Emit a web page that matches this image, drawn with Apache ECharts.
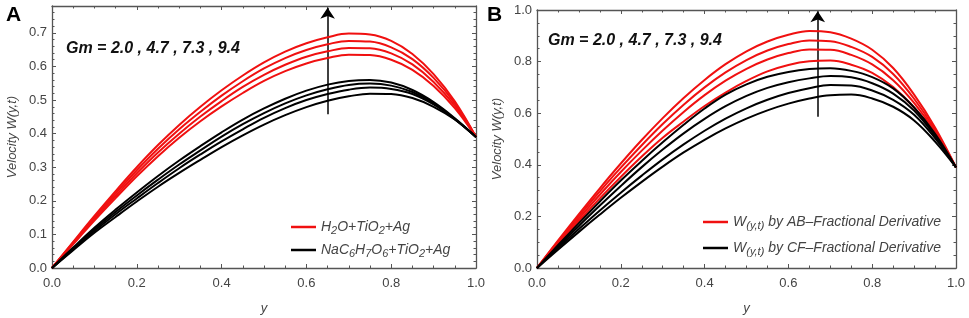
<!DOCTYPE html>
<html>
<head>
<meta charset="utf-8">
<script src="https://cdn.jsdelivr.net/npm/echarts@6/dist/echarts.min.js"></script>
<style>
html,body{margin:0;padding:0;background:#fff;}
#chart{width:969px;height:318px;}
</style>
</head>
<body>
<div id="chart"></div>
<script>
// y positions (same for every curve)
var xs = [0, 0.05, 0.1, 0.15, 0.2, 0.25, 0.3, 0.35, 0.4, 0.45, 0.5,
          0.55, 0.6, 0.65, 0.7, 0.75, 0.8, 0.85, 0.9, 0.95, 1.0];

// panel A, H2O+TiO2+Ag (red), Gm = 2.0, 4.7, 7.3, 9.4
var aRed20 = [0, .071, .141, .208, .273, .333, .388, .437, .481, .521, .557, .586, .609, .625, .635, .634, .620, .590, .542, .476, .39];
var aRed47 = [0, .073, .146, .215, .282, .344, .400, .451, .497, .539, .575, .605, .629, .645, .655, .654, .639, .606, .554, .483, .39];
var aRed73 = [0, .076, .150, .222, .291, .355, .413, .465, .513, .556, .594, .625, .649, .666, .676, .674, .657, .622, .566, .490, .39];
var aRed94 = [0, .078, .155, .229, .300, .366, .426, .480, .529, .573, .612, .644, .669, .687, .698, .695, .676, .637, .577, .496, .39];
// panel A, NaC6H7O6+TiO2+Ag (black)
var aBlk20 = [0, .053, .105, .152, .198, .242, .283, .322, .360, .395, .427, .455, .479, .498, .511, .519, .518, .506, .480, .442, .39];
var aBlk47 = [0, .056, .110, .160, .207, .253, .297, .338, .377, .413, .447, .476, .500, .518, .531, .537, .533, .518, .487, .443, .39];
var aBlk73 = [0, .058, .115, .167, .216, .263, .308, .350, .391, .428, .461, .490, .514, .532, .545, .549, .543, .524, .491, .444, .39];
var aBlk94 = [0, .061, .120, .174, .225, .274, .320, .363, .404, .442, .475, .504, .528, .546, .557, .560, .552, .530, .494, .446, .39];

// panel B, AB fractional derivative (red)
var bRed20 = [0, .093, .183, .270, .353, .432, .505, .568, .628, .680, .725, .762, .787, .801, .804, .788, .756, .701, .622, .518, .39];
var bRed47 = [0, .098, .192, .284, .372, .455, .533, .605, .670, .726, .772, .808, .833, .847, .846, .826, .789, .728, .640, .528, .39];
var bRed73 = [0, .102, .201, .297, .389, .476, .558, .633, .700, .758, .806, .843, .868, .882, .879, .857, .818, .752, .656, .536, .39];
var bRed94 = [0, .106, .209, .309, .405, .496, .581, .659, .729, .790, .840, .878, .904, .919, .914, .889, .846, .775, .672, .545, .39];
// panel B, CF fractional derivative (black)
var bBlk20 = [0, .071, .140, .207, .272, .334, .393, .448, .497, .541, .579, .611, .637, .657, .670, .672, .657, .625, .572, .490, .39];
var bBlk47 = [0, .077, .151, .223, .292, .358, .421, .479, .532, .579, .619, .652, .678, .697, .709, .707, .688, .652, .594, .503, .39];
var bBlk73 = [0, .083, .163, .242, .318, .391, .459, .522, .578, .627, .667, .698, .720, .735, .744, .739, .716, .676, .610, .511, .39];
var bBlk94 = [0, .088, .174, .258, .339, .415, .487, .555, .618, .672, .712, .741, .760, .771, .774, .764, .740, .696, .622, .520, .39];

// arrows [y, from, to]
var arrowA = [0.65, 0.458, 0.775];
var arrowB = [0.67, 0.586, 0.995];

var gmText = 'Gm = 2.0 , 4.7 , 7.3 , 9.4';
var nameA1 = 'H2O+TiO2+Ag', nameA2 = 'NaC6H7O6+TiO2+Ag';
var nameB1 = 'W(y,t) by AB-Fractional Derivative', nameB2 = 'W(y,t) by CF-Fractional Derivative';

var FONT = 'Liberation Sans, Arial, sans-serif';
var GREY = '#444';

function pts(arr){
    var out = [];
    for (var i = 0; i < xs.length; i++) out.push([xs[i], arr[i]]);
    return out;
}

function curve(name, arr, color, g){
    return {
        name: name, type: 'line', data: pts(arr), smooth: 0.4,
        showSymbol: false, xAxisIndex: g * 2, yAxisIndex: g * 2,
        lineStyle: {color: color, width: 2}, itemStyle: {color: color},
        silent: true
    };
}

function arrow(a, g){
    return {
        type: 'lines', coordinateSystem: 'cartesian2d',
        xAxisIndex: g * 2, yAxisIndex: g * 2,
        symbol: ['none', 'arrow'], symbolSize: [7, 11],
        lineStyle: {color: '#000', width: 1.5, opacity: 1},
        data: [{coords: [[a[0], a[1]], [a[0], a[2]]]}],
        silent: true
    };
}

function xAx(g, top){
    return {
        type: 'value', gridIndex: g, min: 0, max: 1, interval: 0.2,
        position: top ? 'top' : 'bottom',
        name: top ? '' : 'y', nameLocation: 'middle', nameGap: 34,
        nameTextStyle: {fontFamily: FONT, fontSize: 13, fontStyle: 'italic', color: GREY},
        axisLine: {onZero: false, lineStyle: {color: '#555', width: 1.3}},
        axisTick: {inside: true, length: 4, lineStyle: {color: '#555'}},
        minorTick: {show: true, splitNumber: 4, length: 2.5, lineStyle: {color: '#555'}},
        axisLabel: {show: !top, margin: 9, fontFamily: FONT, fontSize: 13, color: GREY,
            formatter: function(v){ return v.toFixed(1); }},
        splitLine: {show: false}
    };
}

function yAx(g, right, max, interval, minorSplit){
    return {
        type: 'value', gridIndex: g, min: 0, max: max, interval: interval,
        position: right ? 'right' : 'left',
        name: right ? '' : 'Velocity W(y,t)', nameLocation: 'middle', nameGap: 33,
        nameTextStyle: {fontFamily: FONT, fontSize: 13, fontStyle: 'italic', color: GREY},
        axisLine: {onZero: false, lineStyle: {color: '#555', width: 1.3}},
        axisTick: {inside: true, length: 4, lineStyle: {color: '#555'}},
        minorTick: {show: true, splitNumber: minorSplit, length: 2.5, lineStyle: {color: '#555'}},
        axisLabel: {show: !right, margin: 5, fontFamily: FONT, fontSize: 13, color: GREY,
            showMaxLabel: max === 1,
            formatter: function(v){ return v.toFixed(1); }},
        splitLine: {show: false}
    };
}

var rich = {
    it: {fontFamily: FONT, fontSize: 14, fontStyle: 'italic', color: GREY},
    sub: {fontFamily: FONT, fontSize: 11, fontStyle: 'italic', color: GREY, padding: [7, 0, 0, 0]}
};
var legendText = {};
legendText[nameA1] = '{it|H}{sub|2}{it|O+TiO}{sub|2}{it|+Ag}';
legendText[nameA2] = '{it|NaC}{sub|6}{it|H}{sub|7}{it|O}{sub|6}{it|+TiO}{sub|2}{it|+Ag}';
legendText[nameB1] = '{it|W}{sub|(y,t)}{it| by AB\u2013Fractional Derivative}';
legendText[nameB2] = '{it|W}{sub|(y,t)}{it| by CF\u2013Fractional Derivative}';

function legend(names, left, top, gap){
    return {
        data: names, orient: 'vertical', left: left, top: top,
        icon: 'rect', itemWidth: 25, itemHeight: 2.5, itemGap: gap,
        padding: 0, selectedMode: false,
        formatter: function(n){ return legendText[n]; },
        textStyle: {rich: rich}
    };
}

var gmStyle = {fontFamily: FONT, fontSize: 16, fontWeight: 'bold', fontStyle: 'italic', color: '#111'};
var panelStyle = {fontFamily: FONT, fontSize: 21, fontWeight: 'bold', color: '#000'};

var option = {
    animation: false,
    backgroundColor: '#fff',
    title: [
        {text: 'A', left: 6, top: 5, padding: 0, textStyle: panelStyle},
        {text: 'B', left: 487, top: 5, padding: 0, textStyle: panelStyle},
        {text: gmText, left: 66, top: 41, padding: 0, textStyle: gmStyle},
        {text: gmText, left: 548, top: 33, padding: 0, textStyle: gmStyle}
    ],
    legend: [
        legend([nameA1, nameA2], 291, 220, 7),
        legend([nameB1, nameB2], 703, 215, 10)
    ],
    grid: [
        {left: 52, top: 6, width: 424, height: 262, outerBoundsMode: 'none'},
        {left: 537, top: 10, width: 419, height: 258, outerBoundsMode: 'none'}
    ],
    xAxis: [xAx(0, false), xAx(0, true), xAx(1, false), xAx(1, true)],
    yAxis: [yAx(0, false, 0.78, 0.1, 5), yAx(0, true, 0.78, 0.1, 5),
            yAx(1, false, 1, 0.2, 4), yAx(1, true, 1, 0.2, 4)],
    series: [
        curve(nameA1, aRed20, '#f01010', 0),
        curve(nameA1, aRed47, '#f01010', 0),
        curve(nameA1, aRed73, '#f01010', 0),
        curve(nameA1, aRed94, '#f01010', 0),
        curve(nameA2, aBlk20, '#000', 0),
        curve(nameA2, aBlk47, '#000', 0),
        curve(nameA2, aBlk73, '#000', 0),
        curve(nameA2, aBlk94, '#000', 0),
        curve(nameB1, bRed20, '#f01010', 1),
        curve(nameB1, bRed47, '#f01010', 1),
        curve(nameB1, bRed73, '#f01010', 1),
        curve(nameB1, bRed94, '#f01010', 1),
        curve(nameB2, bBlk20, '#000', 1),
        curve(nameB2, bBlk47, '#000', 1),
        curve(nameB2, bBlk73, '#000', 1),
        curve(nameB2, bBlk94, '#000', 1),
        arrow(arrowA, 0),
        arrow(arrowB, 1)
    ]
};

var chart = echarts.init(document.getElementById('chart'));
chart.setOption(option);
</script>
</body>
</html>
